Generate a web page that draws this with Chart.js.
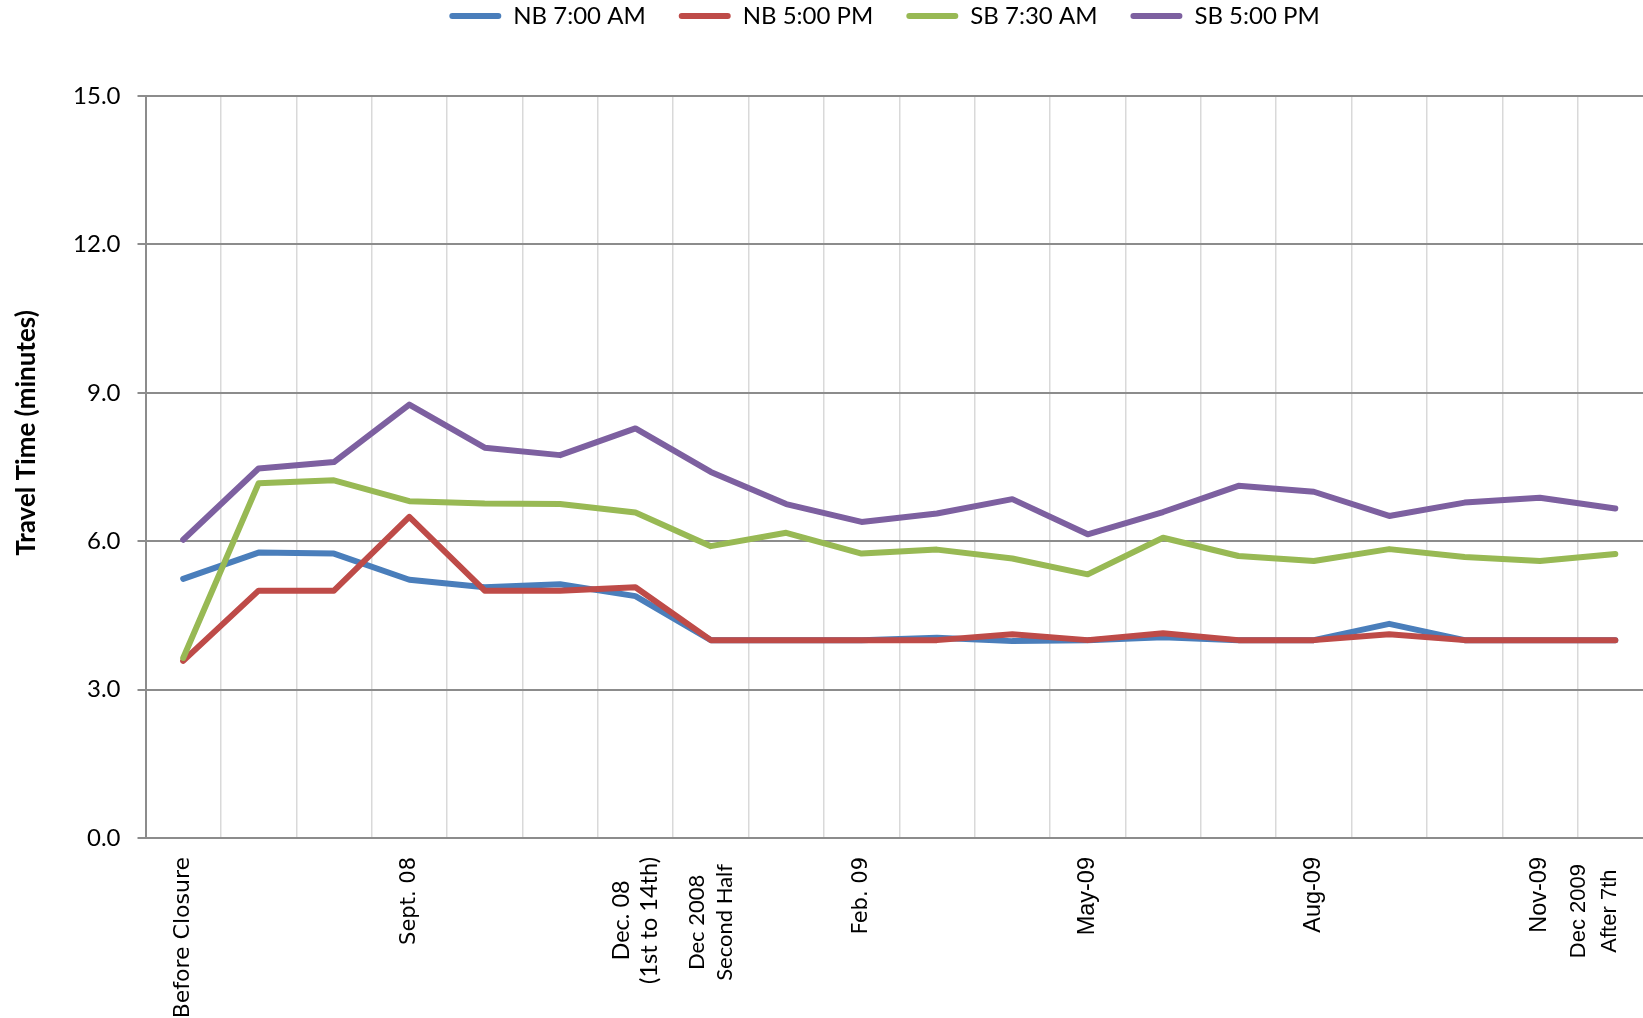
<!DOCTYPE html>
<html>
<head>
<meta charset="utf-8">
<script src="https://cdn.jsdelivr.net/npm/chart.js@4.4.0/dist/chart.umd.min.js"></script>
<style>
  html, body { margin: 0; padding: 0; background: #fff; overflow: hidden; }
  #wrap { width: 1653px; height: 1018px; position: relative; }
</style>
</head>
<body>
<div id="wrap"><canvas id="myChart"></canvas></div>
<script>
"use strict";

// data
const categories = [
  "Before Closure", "", "", "Sept. 08", "", "",
  ["Dec. 08", "(1st to 14th)"], ["Dec 2008", "Second Half"],
  "", "Feb. 09", "", "", "May-09", "", "", "Aug-09", "", "", "Nov-09",
  ["Dec 2009", "After 7th"],
];
const nb700 = [5.24, 5.77, 5.75, 5.22, 5.07, 5.13, 4.89, 4.0, 4.0, 4.0, 4.05, 3.98, 4.0, 4.06, 4.0, 4.0, 4.33, 4.0, 4.0, 4.0];
const nb500 = [3.58, 5.0, 5.0, 6.49, 5.0, 5.0, 5.07, 4.0, 4.0, 4.0, 4.0, 4.12, 4.0, 4.14, 4.0, 4.0, 4.12, 4.0, 4.0, 4.0];
const sb730 = [3.64, 7.17, 7.23, 6.81, 6.76, 6.75, 6.58, 5.9, 6.17, 5.75, 5.83, 5.65, 5.33, 6.07, 5.7, 5.6, 5.84, 5.68, 5.6, 5.74];
const sb500 = [6.03, 7.47, 7.6, 8.76, 7.89, 7.74, 8.28, 7.4, 6.75, 6.39, 6.56, 6.85, 6.14, 6.59, 7.12, 7.0, 6.51, 6.78, 6.88, 6.66];
const seriesNames = ["NB 7:00 AM", "NB 5:00 PM", "SB 7:30 AM", "SB 5:00 PM"];
const yMin = 0;
const yMax = 15;
const yStep = 3;
const yTitle = "Travel Time (minutes)";

const colors = ["#4A7EBB", "#BE4B48", "#98B954", "#7D60A0"];
const series = [nb700, nb500, sb730, sb500];

// fonts of the x labels differ from one label to the next
function xLabelFont(ctx) {
  const i = ctx.index;
  if (i === 0) return { family: "DejaVu Sans", size: 22 };
  if (i === 6) return { family: "Lato", size: 23.5, lineHeight: 1.2 };
  if (i === 7) return { family: "Lato", size: 22, lineHeight: 1.27 };
  if (i === 12 || i === 15 || i === 18) return { family: "Liberation Sans", size: 23.5 };
  if (i === 19) return { family: "Liberation Sans", size: 22, lineHeight: 1.38 };
  return { family: "DejaVu Sans", size: 21 };
}

// legend: fixed height, nudged up and right like the original
const legendFix = {
  id: "legendFix",
  beforeLayout(chart) {
    const lg = chart.legend;
    if (lg && !lg._patched) {
      const fit = lg.fit;
      lg.fit = function () {
        fit.call(this);
        this.height = 96;
      };
      lg._patched = true;
    }
  },
  afterLayout(chart) {
    const lg = chart.legend;
    lg.left += 58;
    lg.right += 58;
    lg.top -= 29;
    lg.bottom -= 29;
  },
};

// two-line x labels are centred line by line, as Excel does
const labelFix = {
  id: "labelFix",
  beforeDraw(chart) {
    const xs = chart.scales.x;
    const items = xs.getLabelItems(chart.chartArea);
    if (items._fixed) return;
    items._fixed = true;
    const ctx = chart.ctx;
    items.forEach(function (item) {
      if (!Array.isArray(item.label)) return;
      const opt = item.options;
      const lh = item.font.lineHeight;
      const n = item.label.length;
      ctx.save();
      ctx.font = item.font.string;
      const widest = Math.max.apply(null, item.label.map((s) => ctx.measureText(s).width));
      ctx.restore();
      let dx = -(n - 1) * lh / 2;
      let dy = widest / 2;
      if (item.label[0] === "Dec 2009") { dx -= 21; dy += 7; }
      if (item.label[0] === "Dec 2008") { dy += 7; }
      opt.textAlign = "center";
      opt.translation[0] += dx;
      opt.translation[1] += dy;
    });
  },
};

// y axis title sits a bit above the middle of the plot in the original
const yTitlePlugin = {
  id: "yTitlePlugin",
  afterDraw(chart) {
    const ctx = chart.ctx;
    const area = chart.chartArea;
    ctx.save();
    ctx.translate(27, (area.top + area.bottom) / 2 - 34);
    ctx.rotate(-Math.PI / 2);
    ctx.font = "bold 26px Lato";
    ctx.fillStyle = "#000";
    ctx.textAlign = "center";
    ctx.textBaseline = "middle";
    ctx.fillText(yTitle, 0, 0);
    ctx.restore();
  },
};

const data = {
  labels: categories,
  datasets: series.map(function (values, i) {
    return {
      label: seriesNames[i],
      data: values,
      borderColor: colors[i],
      backgroundColor: colors[i],
      borderWidth: 6,
      borderCapStyle: "round",
      borderJoinStyle: "round",
      pointRadius: 0,
      tension: 0,
      fill: false,
      order: 4 - i,
    };
  }),
};

const config = {
  type: "line",
  data,
  plugins: [legendFix, labelFix, yTitlePlugin],
  options: {
    responsive: true,
    maintainAspectRatio: false,
    devicePixelRatio: 1,
    animation: false,
    events: [],
    layout: { padding: 0 },
    plugins: {
      tooltip: { enabled: false },
      legend: {
        position: "top",
        labels: {
          font: { family: "Lato", size: 24 },
          color: "#000",
          boxWidth: 52,
          boxHeight: 6,
          padding: 33,
          sort: (a, b) => a.datasetIndex - b.datasetIndex,
          generateLabels: function (chart) {
            const items = Chart.defaults.plugins.legend.labels.generateLabels(chart);
            items.forEach(function (it) {
              it.lineWidth = 0;
              it.borderRadius = 3;
            });
            return items;
          },
        },
      },
    },
    scales: {
      x: {
        offset: true,
        grid: {
          offset: true,
          color: "#D9D9D9",
          lineWidth: 1.5,
          drawTicks: false,
        },
        border: { display: true, color: "#8C8C8C", width: 2 },
        ticks: {
          autoSkip: false,
          minRotation: 90,
          maxRotation: 90,
          padding: 19,
          color: "#000",
          font: xLabelFont,
        },
        afterFit: function (s) {
          s.height = 180;
          s.paddingLeft = 0;
          s.paddingRight = 0;
        },
      },
      y: {
        min: yMin,
        max: yMax,
        grid: {
          color: "#8C8C8C",
          lineWidth: 2,
          drawTicks: true,
          tickLength: 8,
        },
        border: { display: true, color: "#8C8C8C", width: 2 },
        ticks: {
          stepSize: yStep,
          padding: 17,
          color: "#000",
          font: { family: "Lato", size: 24 },
          callback: (v) => Number(v).toFixed(1),
        },
        title: { display: false },
        afterFit: function (s) {
          s.width = 145.5;
        },
      },
    },
  },
};

const myChart = new Chart(document.getElementById("myChart"), config);
</script>
</body>
</html>
